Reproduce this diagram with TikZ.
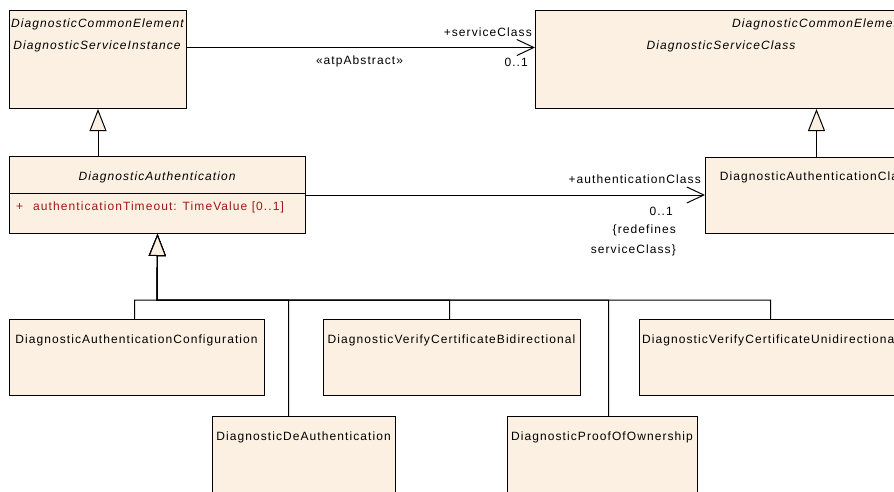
\documentclass[tikz,border=0pt]{standalone}
\usepackage{fontspec}
\setmainfont{Liberation Sans}[LetterSpace=9]
\usepackage{xcolor}
\definecolor{umlfill}{RGB}{251,240,226}
\definecolor{umlattr}{RGB}{163,22,22}
\usepackage{tikz}
\usetikzlibrary{arrows.meta, positioning}

\begin{document}
\begin{tikzpicture}[x=1pt, y=-1pt, font=\fontsize{12}{14}\selectfont,
    umlclass/.style={draw=black, fill=umlfill, line width=1pt,
                     anchor=north west, inner sep=0pt},
    umlname/.style={inner sep=0pt, anchor=base},
    rolename/.style={inner sep=0pt, anchor=base east},
    assoc/.style={draw=black, line width=1pt,
                  -{Straight Barb[length=17pt, width=16pt, line width=1pt]}},
    generalize/.style={draw=black, line width=1pt,
                  -{Triangle[length=22pt, width=17pt, fill=umlfill, line width=1pt]}}]
\useasboundingbox (0,0) rectangle (894,491);
\clip (0,0) rectangle (894,491);

% abstract classes at the top
\node[umlclass, minimum width=177pt, minimum height=98pt] (inst) at (9,10) {};
\node[umlname, anchor=base west] (instpkg) at (11,27.5) {\itshape DiagnosticCommonElement};
\node[umlname] (instname) at (97,49.5) {\itshape DiagnosticServiceInstance};

\node[umlclass, minimum width=372pt, minimum height=98pt] (svc) at (535,10) {};
\node[umlname, anchor=base west] (svcpkg) at (732,27.5) {\itshape DiagnosticCommonElement};
\node[umlname] (svcname) at (721,49.5) {\itshape DiagnosticServiceClass};

% authentication
\node[umlclass, minimum width=296pt, minimum height=77pt] (auth) at (9,156) {};
\node[umlname] (authname) at (157,180.5) {\itshape DiagnosticAuthentication};
\draw[draw=black, line width=1pt] ([yshift=-37pt]auth.north west) -- ([yshift=-37pt]auth.north east);
\node[umlname, anchor=base west, text=umlattr] (authattr) at (16,210.5)
  {+\hspace{10pt}authenticationTimeout: TimeValue [0..1]};

\node[umlclass, minimum width=222pt, minimum height=76pt] (authcls) at (705,157) {};
\node[umlname] (authclsname) at (816,180.5) {DiagnosticAuthenticationClass};

% concrete subclasses
\node[umlclass, minimum width=255pt, minimum height=76pt] (conf) at (9,319) {};
\node[umlname] (confname) at (136.5,343.5) {DiagnosticAuthenticationConfiguration};
\node[umlclass, minimum width=257pt, minimum height=76pt] (bidir) at (323,319) {};
\node[umlname] (bidirname) at (451.5,343.5) {DiagnosticVerifyCertificateBidirectional};
\node[umlclass, minimum width=262pt, minimum height=76pt] (unidir) at (639,319) {};
\node[umlname] (unidirname) at (770,343.5) {DiagnosticVerifyCertificateUnidirectional};
\node[umlclass, minimum width=183pt, minimum height=90pt] (deauth) at (212,416) {};
\node[umlname] (deauthname) at (303.5,440) {DiagnosticDeAuthentication};
\node[umlclass, minimum width=190pt, minimum height=90pt] (proof) at (507,416) {};
\node[umlname] (proofname) at (602,440) {DiagnosticProofOfOwnership};

% associations
\draw[assoc] ([yshift=12pt]inst.east) -- ([yshift=12pt]inst.east -| svc.west);
\node[rolename] (svcrole) at (532,36.5) {+serviceClass};
\node[rolename] (svcmult) at (528,66.5) {0..1};
\node[umlname] (stereo) at (359.5,64.5) {«atpAbstract»};

\draw[assoc] (auth.east) -- (auth.east -| authcls.west);
\node[rolename] (authrole) at (701,183.5) {+authenticationClass};
\node[rolename] (authmult) at (673,215) {0..1};
\node[rolename] (redef1) at (676,233.5) {\{redefines};
\node[rolename] (redef2) at (676,253.5) {serviceClass\}};

% generalizations
\draw[generalize] (inst.south |- auth.north) -- (inst.south);
\draw[generalize] (authcls.north) -- (authcls.north |- svc.south);
\coordinate (bus) at (157,300);
\draw[generalize] ([xshift=-2.5pt]conf.north) |- (bus) -- (auth.south);
\draw[generalize] ([xshift=-15.5pt]deauth.north) |- (bus) -- (auth.south);
\draw[generalize] ([xshift=-2.5pt]bidir.north) |- (bus) -- (auth.south);
\draw[generalize] ([xshift=6pt]proof.north) |- (bus) -- (auth.south);
\draw[generalize] (unidir.north) |- (bus) -- (auth.south);
\end{tikzpicture}
\end{document}
